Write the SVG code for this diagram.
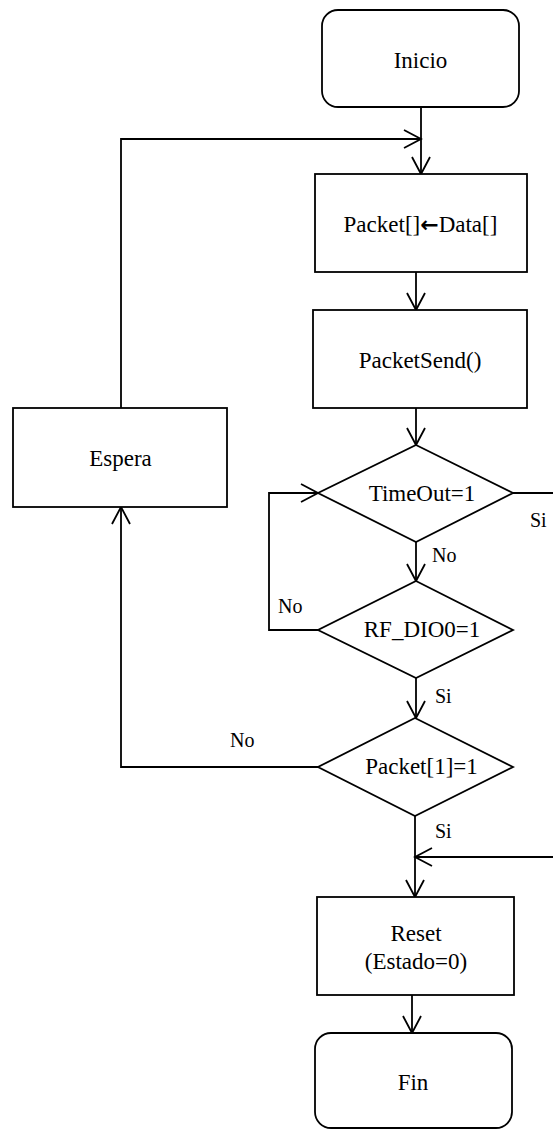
<svg xmlns="http://www.w3.org/2000/svg" width="553" height="1130" viewBox="0 0 553 1130">
<style>
.box{fill:#fff;stroke:#000;stroke-width:1.8}
.ln{fill:none;stroke:#000;stroke-width:1.8}
.t{font-family:'Liberation Serif','Times New Roman','DejaVu Serif',serif;font-size:23px;fill:#000;text-anchor:middle}
.l{font-family:'Liberation Serif','Times New Roman','DejaVu Serif',serif;font-size:20px;fill:#000}
.ar{font-family:'DejaVu Sans',sans-serif;font-size:22px;font-weight:bold}
</style>
<defs>
<marker id="ah" markerUnits="userSpaceOnUse" viewBox="0 0 20 20" markerWidth="20" markerHeight="20" refX="18" refY="10" orient="auto">
<path d="M1,1 L18,10 L1,19" fill="none" stroke="#000" stroke-width="1.8"/>
</marker>
</defs>
<rect width="553" height="1130" fill="#fff"/>
<g id="connectors">
<path class="ln" d="M421,107 V174" marker-end="url(#ah)"/>
<path class="ln" d="M121,408 V139 H421" marker-end="url(#ah)"/>
<path class="ln" d="M416,272 V310" marker-end="url(#ah)"/>
<path class="ln" d="M416,408 V445" marker-end="url(#ah)"/>
<path class="ln" d="M416,542 V581" marker-end="url(#ah)"/>
<path class="ln" d="M513,493 H557 V857 H415" marker-end="url(#ah)"/>
<path class="ln" d="M318,630 H269 V493 H318" marker-end="url(#ah)"/>
<path class="ln" d="M416,678 V718" marker-end="url(#ah)"/>
<path class="ln" d="M318,767 H121 V507" marker-end="url(#ah)"/>
<path class="ln" d="M415,816 V897" marker-end="url(#ah)"/>
<path class="ln" d="M412,995 V1033" marker-end="url(#ah)"/>
<text class="l" x="530" y="527">Si</text>
<text class="l" x="432" y="562">No</text>
<text class="l" x="278" y="613">No</text>
<text class="l" x="435" y="703">Si</text>
<text class="l" x="230" y="747">No</text>
<text class="l" x="435" y="838">Si</text>
</g>
<g id="inicio">
<rect class="box" x="322" y="10" width="197" height="97" rx="16"/>
<text class="t" x="420.5" y="68">Inicio</text>
</g>
<g id="packet">
<rect class="box" x="315" y="174" width="212" height="98"/>
<text class="t" x="420.5" y="232">Packet[]<tspan class="ar">←</tspan>Data[]</text>
</g>
<g id="send">
<rect class="box" x="313" y="310" width="214" height="98"/>
<text class="t" x="420" y="368">PacketSend()</text>
</g>
<g id="espera">
<rect class="box" x="13" y="408" width="214" height="99"/>
<text class="t" x="120.5" y="466">Espera</text>
</g>
<g id="timeout">
<polygon class="box" points="416,445 513,493 416,542 318,493"/>
<text class="t" x="422" y="501">TimeOut=1</text>
</g>
<g id="rfdio">
<polygon class="box" points="416,581 513,630 416,678 318,630"/>
<text class="t" x="422" y="637">RF_DIO0=1</text>
</g>
<g id="packet1">
<polygon class="box" points="415,718 513,767 415,816 318,767"/>
<text class="t" x="421.5" y="774">Packet[1]=1</text>
</g>
<g id="reset">
<rect class="box" x="317" y="897" width="197" height="98"/>
<text class="t" x="416" y="941">Reset</text>
<text class="t" x="416" y="969">(Estado=0)</text>
</g>
<g id="fin">
<rect class="box" x="315" y="1033" width="197" height="95" rx="16"/>
<text class="t" x="413" y="1090">Fin</text>
</g>
</svg>
